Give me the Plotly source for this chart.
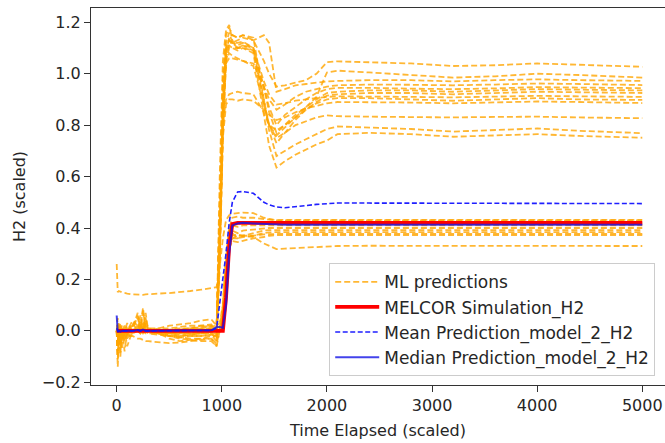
import plotly.graph_objects as go

# ---------------- data ----------------
T_EARLY = [0, 10, 20, 35, 50, 75, 100, 150, 200, 225, 250, 275, 300, 400, 500, 600, 700, 800, 900]
T_MID = [950, 980, 1010, 1040, 1070, 1100, 1150, 1200, 1300, 1400, 1450, 1520]
T_LATE = [1600, 1700, 1800, 1900, 2000, 2100, 2400, 2800, 3200, 3600, 4000, 4400, 5000]
TIME = T_EARLY + T_MID + T_LATE

# ML ensemble predictions (each: early + transition + late segment)
ML_PREDICTIONS = [
    # high group
    [0.0, -0.03, 0.02, -0.01, 0.01, -0.02, 0.0, 0.02, 0.05, 0.01, 0.03, 0.0, 0.01, 0.0, -0.01, -0.005, 0.0, 0.005, 0.01]
    + [0.0, 0.4, 0.85, 1.08, 1.14, 1.15, 1.14, 1.15, 1.13, 1.05, 1.0, 0.95]
    + [0.955, 0.965, 0.975, 1.0, 1.045, 1.048, 1.045, 1.04, 1.03, 1.033, 1.04, 1.035, 1.027],
    [0.0, 0.01, -0.02, 0.0, -0.01, 0.01, -0.015, 0.0, 0.0, 0.06, 0.01, 0.02, 0.0, -0.01, -0.02, -0.02, -0.015, -0.01, -0.01]
    + [-0.03, 0.3, 0.8, 1.06, 1.12, 1.12, 1.11, 1.12, 1.1, 0.95, 0.85, 0.77]
    + [0.8, 0.84, 0.87, 0.91, 1.005, 1.012, 1.005, 0.995, 0.985, 0.99, 1.0, 0.995, 0.985],
    [0.0, -0.05, 0.0, 0.03, -0.02, 0.0, 0.01, 0.0, 0.02, 0.0, 0.08, 0.01, 0.0, 0.0, 0.005, 0.01, 0.01, 0.015, 0.02]
    + [0.0, 0.35, 0.9, 1.1, 1.13, 1.12, 1.13, 1.14, 1.13, 1.15, 1.12, 0.93]
    + [0.94, 0.955, 0.96, 0.965, 0.97, 0.972, 0.975, 0.975, 0.97, 0.975, 0.978, 0.975, 0.972],
    [0.0, 0.02, -0.04, -0.01, 0.0, -0.03, -0.02, -0.02, -0.03, -0.03, -0.035, -0.04, -0.04, -0.045, -0.048, -0.045, -0.04, -0.035, -0.03]
    + [-0.06, 0.25, 0.75, 1.05, 1.1, 1.1, 1.09, 1.1, 1.08, 0.85, 0.72, 0.635]
    + [0.66, 0.685, 0.705, 0.725, 0.74, 0.765, 0.77, 0.765, 0.755, 0.76, 0.765, 0.758, 0.751],
    [0.0, -0.1, 0.02, -0.06, 0.01, -0.02, 0.0, 0.01, 0.07, 0.0, 0.02, 0.05, 0.0, -0.01, -0.01, -0.005, 0.0, 0.0, 0.005]
    + [0.0, 0.45, 0.95, 1.12, 1.16, 1.12, 1.1, 1.11, 1.09, 0.9, 0.78, 0.68]
    + [0.7, 0.725, 0.745, 0.765, 0.785, 0.795, 0.79, 0.785, 0.775, 0.78, 0.787, 0.778, 0.769],
    [0.0, 0.03, 0.0, -0.02, 0.0, 0.02, 0.0, -0.01, 0.0, 0.02, 0.0, 0.04, 0.01, 0.01, 0.02, 0.025, 0.03, 0.04, 0.045]
    + [0.02, 0.4, 0.85, 1.05, 1.08, 1.07, 1.06, 1.05, 1.03, 0.88, 0.8, 0.75]
    + [0.77, 0.8, 0.815, 0.83, 0.838, 0.835, 0.833, 0.832, 0.83, 0.832, 0.833, 0.83, 0.827],
    [0.0, -0.02, -0.01, 0.01, -0.04, 0.0, 0.02, 0.0, 0.0, -0.01, 0.0, 0.0, -0.01, -0.015, -0.02, -0.025, -0.02, -0.02, -0.015]
    + [-0.04, 0.35, 0.8, 0.9, 0.92, 0.925, 0.93, 0.925, 0.92, 0.85, 0.8, 0.78]
    + [0.8, 0.83, 0.86, 0.885, 0.9, 0.905, 0.905, 0.9, 0.895, 0.9, 0.905, 0.9, 0.898],
    [0.0, 0.0, -0.06, 0.0, 0.01, -0.01, 0.0, 0.03, 0.0, 0.01, 0.09, 0.0, 0.0, 0.0, -0.005, 0.0, 0.0, 0.0, 0.0]
    + [0.0, 0.3, 0.75, 0.88, 0.9, 0.9, 0.895, 0.9, 0.895, 0.86, 0.84, 0.82]
    + [0.83, 0.85, 0.865, 0.875, 0.885, 0.89, 0.89, 0.888, 0.885, 0.888, 0.892, 0.89, 0.886],
    [0.0, 0.05, -0.02, 0.0, 0.02, 0.0, 0.0, 0.04, 0.02, 0.0, 0.0, 0.03, 0.0, 0.0, 0.0, 0.005, 0.01, 0.02, 0.025]
    + [0.0, 0.5, 0.98, 1.15, 1.18, 1.15, 1.14, 1.15, 1.14, 0.9, 0.8, 0.73]
    + [0.77, 0.82, 0.86, 0.89, 0.915, 0.92, 0.925, 0.925, 0.92, 0.925, 0.93, 0.928, 0.925],
    [0.0, -0.08, 0.0, 0.02, -0.03, 0.01, -0.01, 0.0, 0.0, 0.0, 0.01, 0.0, 0.0, -0.005, -0.01, -0.01, -0.01, -0.005, 0.0]
    + [0.01, 0.35, 0.85, 1.08, 1.11, 1.1, 1.1, 1.1, 1.09, 0.95, 0.87, 0.8]
    + [0.84, 0.87, 0.9, 0.925, 0.94, 0.945, 0.945, 0.942, 0.94, 0.943, 0.948, 0.946, 0.944],
    [0.0, 0.01, 0.0, -0.03, 0.0, 0.0, 0.03, 0.0, 0.01, 0.03, 0.0, 0.0, 0.0, 0.01, 0.01, 0.015, 0.02, 0.02, 0.02]
    + [0.0, 0.3, 0.8, 1.04, 1.06, 1.06, 1.055, 1.05, 1.04, 0.95, 0.9, 0.86]
    + [0.88, 0.91, 0.93, 0.94, 0.95, 0.955, 0.958, 0.957, 0.955, 0.958, 0.962, 0.96, 0.956],
    [0.0, -0.04, 0.01, 0.0, 0.0, -0.02, 0.0, 0.0, 0.0, 0.02, 0.0, 0.0, 0.0, -0.01, -0.015, -0.02, -0.015, -0.01, -0.005]
    + [-0.02, 0.3, 0.82, 1.1, 1.13, 1.12, 1.12, 1.125, 1.1, 0.97, 0.92, 0.88]
    + [0.885, 0.895, 0.9, 0.905, 0.91, 0.912, 0.912, 0.91, 0.908, 0.91, 0.914, 0.912, 0.91],
    [0.0, 0.0, 0.03, 0.0, -0.01, 0.0, 0.0, -0.01, 0.0, -0.01, 0.0, 0.0, 0.0, 0.0, 0.0, 0.0, 0.005, 0.01, 0.01]
    + [0.0, 0.6, 1.05, 1.17, 1.19, 1.13, 1.1, 1.11, 1.1, 0.88, 0.8, 0.76]
    + [0.79, 0.83, 0.87, 0.9, 0.925, 0.93, 0.935, 0.935, 0.93, 0.935, 0.94, 0.938, 0.935],
    # low group
    [0.0, 0.02, -0.03, 0.0, 0.0, 0.01, -0.02, 0.0, 0.0, 0.0, -0.01, 0.0, 0.0, 0.0, 0.0, 0.005, 0.01, 0.01, 0.015]
    + [0.02, 0.03, 0.1, 0.28, 0.4, 0.44, 0.445, 0.44, 0.44, 0.435, 0.432, 0.43]
    + [0.43, 0.431, 0.43, 0.43, 0.431, 0.43, 0.43, 0.431, 0.43, 0.43, 0.431, 0.43, 0.43],
    [0.0, -0.14, -0.05, -0.02, -0.07, 0.0, -0.01, -0.005, 0.0, -0.005, 0.0, -0.01, -0.01, -0.01, -0.02, -0.025, -0.03, -0.03, -0.03]
    + [-0.05, 0.0, 0.08, 0.25, 0.38, 0.41, 0.42, 0.42, 0.42, 0.42, 0.42, 0.42]
    + [0.42, 0.421, 0.42, 0.42, 0.42, 0.421, 0.42, 0.42, 0.42, 0.421, 0.42, 0.42, 0.42],
    [0.0, 0.0, 0.0, -0.09, 0.0, -0.04, 0.0, 0.02, 0.0, 0.0, 0.0, 0.0, 0.0, -0.01, -0.03, -0.04, -0.035, -0.03, -0.02]
    + [-0.02, 0.01, 0.1, 0.3, 0.4, 0.41, 0.405, 0.41, 0.41, 0.41, 0.41, 0.41]
    + [0.41, 0.41, 0.411, 0.41, 0.41, 0.41, 0.411, 0.41, 0.41, 0.41, 0.41, 0.411, 0.41],
    [0.0, -0.06, 0.0, 0.0, 0.01, -0.08, 0.0, 0.0, 0.06, 0.01, 0.0, 0.0, 0.0, 0.0, 0.0, 0.0, 0.0, 0.0, 0.0]
    + [0.0, 0.0, 0.06, 0.22, 0.36, 0.39, 0.38, 0.39, 0.395, 0.4, 0.4, 0.4]
    + [0.4, 0.4, 0.401, 0.4, 0.4, 0.4, 0.4, 0.401, 0.4, 0.4, 0.4, 0.4, 0.4],
    [0.0, 0.0, -0.02, 0.0, -0.03, 0.0, 0.0, 0.0, 0.0, 0.0, 0.0, 0.07, 0.0, -0.005, -0.01, -0.015, -0.02, -0.02, -0.015]
    + [-0.02, 0.0, 0.05, 0.2, 0.35, 0.37, 0.375, 0.37, 0.38, 0.39, 0.392, 0.392]
    + [0.392, 0.392, 0.392, 0.393, 0.392, 0.392, 0.392, 0.392, 0.393, 0.392, 0.392, 0.392, 0.392],
    [0.0, -0.02, 0.0, -0.1, 0.0, 0.0, -0.03, 0.0, 0.0, 0.0, 0.0, 0.0, 0.0, 0.0, 0.0, -0.005, -0.01, -0.01, -0.01]
    + [-0.01, 0.0, 0.08, 0.26, 0.37, 0.38, 0.36, 0.365, 0.37, 0.38, 0.383, 0.384]
    + [0.384, 0.384, 0.385, 0.384, 0.384, 0.384, 0.384, 0.385, 0.384, 0.384, 0.384, 0.384, 0.384],
    [0.0, 0.0, -0.05, 0.0, 0.0, 0.0, -0.06, 0.0, 0.0, 0.04, 0.0, 0.0, 0.0, 0.0, -0.01, -0.01, -0.01, -0.005, 0.0]
    + [0.0, 0.0, 0.06, 0.2, 0.33, 0.36, 0.36, 0.37, 0.37, 0.375, 0.377, 0.377]
    + [0.377, 0.377, 0.377, 0.378, 0.377, 0.377, 0.377, 0.377, 0.377, 0.378, 0.377, 0.377, 0.377],
    [0.0, 0.01, 0.0, -0.04, 0.0, 0.0, 0.0, 0.0, 0.0, 0.0, 0.0, 0.0, 0.0, 0.0, 0.0, 0.0, 0.0, 0.0, 0.0]
    + [0.0, 0.0, 0.05, 0.18, 0.32, 0.35, 0.345, 0.35, 0.36, 0.365, 0.37, 0.372]
    + [0.372, 0.372, 0.372, 0.372, 0.373, 0.372, 0.372, 0.372, 0.372, 0.372, 0.373, 0.372, 0.372],
    [0.0, -0.11, 0.0, -0.05, 0.0, 0.0, 0.0, 0.0, 0.0, 0.0, 0.0, 0.0, 0.0, -0.01, -0.02, -0.03, -0.035, -0.04, -0.04]
    + [-0.06, 0.0, 0.05, 0.2, 0.33, 0.36, 0.37, 0.37, 0.365, 0.34, 0.33, 0.318]
    + [0.32, 0.322, 0.325, 0.327, 0.328, 0.33, 0.331, 0.331, 0.332, 0.331, 0.331, 0.331, 0.33],
    [0.26, 0.15, 0.155, 0.152, 0.15, 0.148, 0.145, 0.142, 0.14, 0.14, 0.14, 0.142, 0.143, 0.145, 0.147, 0.15, 0.155, 0.16, 0.167]
    + [0.17, 0.25, 0.36, 0.43, 0.45, 0.455, 0.458, 0.46, 0.458, 0.44, 0.435, 0.43]
    + [0.432, 0.432, 0.433, 0.432, 0.432, 0.432, 0.433, 0.432, 0.432, 0.432, 0.432, 0.432, 0.432],
]

MELCOR_H2 = (
    [0.0, 0.0, 0.0, 0.0, 0.0, 0.0, 0.0, 0.0, 0.0, 0.0, 0.0, 0.0, 0.0, 0.0, 0.0, 0.0, 0.0, 0.0, 0.0]
    + [0.0, 0.0, 0.0, 0.13, 0.33, 0.415, 0.42, 0.42, 0.42, 0.42, 0.42, 0.42]
    + [0.42, 0.42, 0.42, 0.42, 0.42, 0.42, 0.42, 0.42, 0.42, 0.42, 0.42, 0.42, 0.42]
)
MEAN_H2 = (
    [0.01, 0.0, 0.0, 0.0, 0.0, 0.0, 0.0, 0.0, 0.003, 0.0, 0.004, 0.0, 0.0, 0.0, 0.0, 0.0, 0.0, 0.0, 0.002]
    + [0.01, 0.1, 0.2, 0.3, 0.42, 0.5, 0.54, 0.542, 0.535, 0.5, 0.49, 0.482]
    + [0.479, 0.482, 0.487, 0.492, 0.495, 0.497, 0.497, 0.497, 0.496, 0.496, 0.497, 0.496, 0.495]
)
MEDIAN_H2 = (
    [0.06, -0.005, 0.0, -0.003, 0.0, 0.0, 0.002, 0.0, 0.003, 0.0, 0.005, 0.0, 0.0, 0.0, 0.0, 0.0, 0.0, 0.0, 0.002]
    + [0.015, 0.015, 0.012, 0.1, 0.3, 0.41, 0.418, 0.42, 0.418, 0.416, 0.415, 0.413]
    + [0.413, 0.413, 0.413, 0.413, 0.413, 0.413, 0.413, 0.413, 0.413, 0.413, 0.413, 0.413, 0.413]
)

X_TICKS = [0, 1000, 2000, 3000, 4000, 5000]
Y_TICKS = [-0.2, 0.0, 0.2, 0.4, 0.6, 0.8, 1.0, 1.2]
Y_TICK_TEXT = ["−0.2", "0.0", "0.2", "0.4", "0.6", "0.8", "1.0", "1.2"]

# ---------------- figure ----------------
FONT = "DejaVu Sans"
fig = go.Figure()

for i, ys in enumerate(ML_PREDICTIONS):
    fig.add_trace(go.Scatter(
        x=TIME, y=ys, mode="lines",
        line=dict(color="rgba(255,165,0,0.8)", width=1.8, dash="6px,3px"),
        name="ML predictions", showlegend=(i == 0),
        hoverinfo="skip",
    ))

fig.add_trace(go.Scatter(
    x=TIME, y=MELCOR_H2, mode="lines",
    line=dict(color="#ff0000", width=3.8),
    name="MELCOR Simulation_H2",
))
fig.add_trace(go.Scatter(
    x=TIME, y=MEAN_H2, mode="lines",
    line=dict(color="#1f1fff", width=1.6, dash="5px,2.5px"),
    name="Mean Prediction_model_2_H2",
))
fig.add_trace(go.Scatter(
    x=TIME, y=MEDIAN_H2, mode="lines",
    line=dict(color="rgba(20,20,230,0.8)", width=2),
    name="Median Prediction_model_2_H2",
))

axis_common = dict(
    showgrid=False, zeroline=False, showline=True,
    linecolor="#333333", linewidth=1.2,
    ticks="outside", ticklen=6, tickwidth=1.2, tickcolor="#333333",
    tickfont=dict(family=FONT, size=16, color="#262626"),
)

fig.update_layout(
    width=665, height=443,
    margin=dict(l=91, r=0, t=8, b=58),
    paper_bgcolor="white", plot_bgcolor="white",
    font=dict(family=FONT, size=16, color="#262626"),
    xaxis=dict(
        range=[-244.5, 5216], tickvals=X_TICKS, ticktext=[str(v) for v in X_TICKS],
        mirror=True,
        title=dict(text="Time Elapsed (scaled)", standoff=10,
                   font=dict(family=FONT, size=16, color="#262626")),
        **axis_common,
    ),
    yaxis=dict(
        range=[-0.2105, 1.2556], tickvals=Y_TICKS, ticktext=Y_TICK_TEXT,
        title=dict(text="H2 (scaled)", standoff=12,
                   font=dict(family=FONT, size=16, color="#262626")),
        **axis_common,
    ),
    legend=dict(
        x=0.415, xanchor="left", y=0.3228, yanchor="top",
        bgcolor="rgba(255,255,255,0.8)", bordercolor="#cccccc", borderwidth=1,
        font=dict(family=FONT, size=17, color="#262626"),
        itemwidth=44, tracegroupgap=0,
    ),
    showlegend=True,
)

fig.write_html("out.html")
